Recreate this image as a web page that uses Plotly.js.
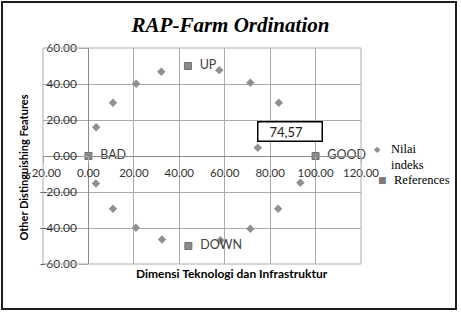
<!DOCTYPE html>
<html><head><meta charset="utf-8">
<script src="https://cdn.plot.ly/plotly-3.0.1.min.js"></script>
<style>
body{margin:0;background:#fff;overflow:hidden}
#chart{width:461px;height:312px}
#frame{position:absolute;left:1px;top:1px;width:452px;height:305px;border:2px solid #1e1e1e;pointer-events:none}
</style>
</head><body><div id="chart"></div><div id="frame"></div>
<script>
// "Nilai indeks" series (ordination anchors + the estimated index)
const indexX = [3.4, 10.8, 21.0, 32.1, 57.6, 71.3, 83.8, 74.57, 3.3, 10.8, 20.9, 32.4, 58.1, 71.3, 83.5, 93.3];
const indexY = [16.0, 29.6, 40.1, 46.8, 47.7, 40.7, 29.6, 4.6, -15.3, -29.3, -39.9, -46.4, -46.8, -40.4, -29.3, -14.9];
// the sustainability index value and its position
const indexValue = 74.57;
const indexValueY = 4.6;
// "References" series
const refX = [0, 100, 43.8, 44.0];
const refY = [0, 0, 50, -50];
const refLabels = ['BAD', 'GOOD', 'UP', 'DOWN'];
// axes
const xTicks = [-20, 0, 20, 40, 60, 80, 100, 120];
const yTicks = [-60, -40, -20, 0, 20, 40, 60];

const sans = 'Lato, "Liberation Sans", sans-serif';
const serif = '"Liberation Serif", "Times New Roman", serif';
const gridC = '#ababab';
const axisC = '#8a8a8a';

const traces = [
  {x: indexX, y: indexY, mode: 'markers', type: 'scatter', name: 'Nilai indeks',
   marker: {symbol: 'diamond', size: 6.5, color: '#909090'}, showlegend: false, cliponaxis: false},
  {x: refX, y: refY, mode: 'markers+text', type: 'scatter', name: 'References',
   text: refLabels.map(s => '\u00a0\u00a0' + s), textposition: 'middle right',
   textfont: {family: sans, size: 12.5, color: '#404040'},
   marker: {symbol: 'square', size: 7, color: '#8a8a8a', line: {color: '#707070', width: 1}},
   showlegend: false, cliponaxis: false}
];

const xr = [-20, 120], yr = [-60, 60];
const layout = {
  width: 461, height: 312,
  margin: {l: 43, r: 100, t: 48, b: 48},
  paper_bgcolor: '#fff', plot_bgcolor: '#fff',
  showlegend: false,
  title: {text: '<b><i>RAP-Farm Ordination</i></b>', font: {family: serif, size: 21, color: '#000'},
          x: 0.5, xref: 'container', xanchor: 'center', y: 0.92, yref: 'container', yanchor: 'middle'},
  xaxis: {range: xr, tickvals: xTicks, tickformat: '.2f', anchor: 'free',
          position: (0 - yr[0]) / (yr[1] - yr[0]),
          showgrid: true, gridcolor: gridC, gridwidth: 1, zeroline: false,
          showline: true, linecolor: axisC, linewidth: 1, ticks: 'outside', ticklen: 6, tickcolor: gridC,
          tickfont: {family: sans, size: 11.5, color: '#333'}},
  yaxis: {range: yr, tickvals: yTicks, tickformat: '.2f', anchor: 'free',
          position: (0 - xr[0]) / (xr[1] - xr[0]),
          showgrid: true, gridcolor: gridC, gridwidth: 1, zeroline: false,
          showline: true, linecolor: axisC, linewidth: 1, ticks: 'outside', ticklen: 9, tickcolor: gridC,
          tickfont: {family: sans, size: 12, color: '#333'}},
  shapes: [{type: 'rect', xref: 'paper', yref: 'paper', x0: 0, x1: 1, y0: 0, y1: 1,
            line: {color: gridC, width: 1}}],
  annotations: [
    {text: '<b>Other Distinguishing Features</b>', textangle: -90, xref: 'paper', yref: 'paper',
     x: -0.088, y: 0.444, showarrow: false, font: {family: sans, size: 11, color: '#000'}},
    {text: '<b>Dimensi Teknologi dan Infrastruktur</b>', xref: 'paper', yref: 'paper',
     x: 0.594, y: -0.088, showarrow: false, font: {family: sans, size: 12, color: '#000'}},
    {text: '\u00a0\u00a0\u00a0' + indexValue.toFixed(2).replace('.', ','), xref: 'x', yref: 'y',
     x: 88.8, y: 13.5, showarrow: false, align: 'left', width: 61, height: 16, borderpad: 1,
     bgcolor: '#fff', bordercolor: '#000', borderwidth: 1.5,
     font: {family: sans, size: 13, color: '#222'}},
    // legend
    {text: '\u25c6', xref: 'paper', yref: 'paper', x: 1.068, y: 0.528, showarrow: false,
     font: {family: 'DejaVu Sans', size: 8, color: '#8f8f8f'}},
    {text: 'Nilai<br>indeks', xref: 'paper', yref: 'paper', x: 1.087, y: 0.497, xanchor: 'left',
     yanchor: 'middle', align: 'left', showarrow: false, font: {family: serif, size: 12.5, color: '#000'}},
    {text: '\u25a0', xref: 'paper', yref: 'paper', x: 1.086, y: 0.39, showarrow: false, borderpad: 0,
     font: {family: 'DejaVu Sans', size: 9, color: '#7a7a7a'}},
    {text: 'References', xref: 'paper', yref: 'paper', x: 1.099, y: 0.39, xanchor: 'left',
     showarrow: false, font: {family: serif, size: 12.5, color: '#000'}}
  ]
};

Plotly.newPlot('chart', traces, layout, {staticPlot: true, displayModeBar: false});
</script>
</body></html>
